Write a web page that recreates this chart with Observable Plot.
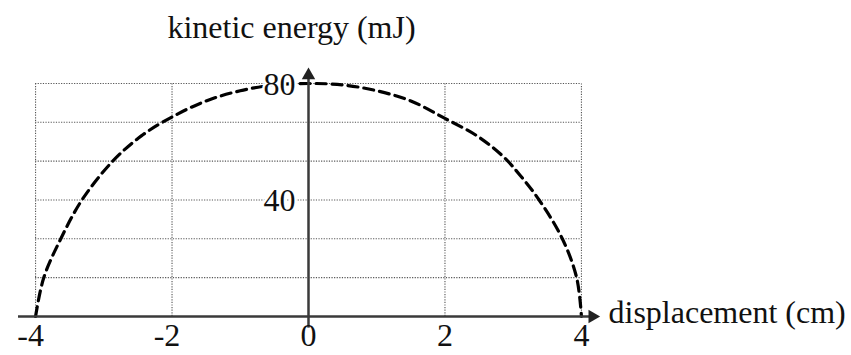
<!DOCTYPE html>
<html>
<head>
<meta charset="utf-8">
<script src="https://cdn.jsdelivr.net/npm/d3@7"></script>
<script src="https://cdn.jsdelivr.net/npm/@observablehq/plot@0.6"></script>
<style>
  html, body { margin: 0; padding: 0; background: #fff; }
</style>
</head>
<body>
<div id="chart"></div>
<script>
// ---- data ----
const displacement = [-4, -3.88, -3.63, -3.32, -2.87, -2.45, -2, -1.5, -1, -0.5, 0, 0.5, 1, 1.5, 2, 2.47, 2.85, 3.1, 3.38, 3.72, 3.93, 4];
const kineticEnergy = [0, 13.3, 26.7, 40, 53.3, 62, 68.5, 74, 77.5, 79.5, 80, 79.5, 77.5, 74, 68, 62, 55, 48.5, 40, 26.7, 13.3, 0];

const xTickLabels = [-4, -2, 0, 2, 4];
const yTickLabels = [40, 80];
const xGridLines = [-4, -2, 2, 4];
const yGridLines = [0, 80 / 6, 160 / 6, 40, 320 / 6, 400 / 6, 80];
const xTitle = "displacement (cm)";
const yTitle = "kinetic energy (mJ)";

// axis extents (data units)
const xDomain = [-4.25, 4.25];
const yDomain = [-4, 86];
const xArrow = 4.16;
const yArrow = 82.8;

const points = displacement.map((x, i) => ({x, y: kineticEnergy[i]}));

const ink = "#111";
const axisColor = "#3a3a3a";

const chart = Plot.plot({
  width: 851,
  height: 355,
  marginLeft: 18,
  marginRight: 253,
  marginTop: 65.5,
  marginBottom: 27.35,
  x: {domain: xDomain, axis: null},
  y: {domain: yDomain, axis: null},
  style: {
    fontFamily: "'Liberation Serif', 'Times New Roman', serif",
    fontSize: "32px",
    background: "white",
    color: ink,
    overflow: "visible"
  },
  marks: [
    // dotted grid
    Plot.ruleY(yGridLines, {y: d => d, x1: () => -4, x2: () => 4, stroke: "#555", strokeWidth: 1.1, strokeDasharray: "1.2,1.4"}),
    Plot.ruleX(xGridLines, {x: d => d, y1: () => 0, y2: () => 80, stroke: "#555", strokeWidth: 1.1, strokeDasharray: "1.2,1.4"}),
    // dashed curve
    Plot.line(points, {x: "x", y: "y", curve: "catmull-rom", stroke: "black", strokeWidth: 3.2, strokeDasharray: "10,6"}),
    // axes
    Plot.ruleY([0], {x1: () => xDomain[0], x2: () => xArrow, stroke: axisColor, strokeWidth: 2.5}),
    Plot.ruleX([0], {y1: () => yDomain[0], y2: () => yArrow, stroke: axisColor, strokeWidth: 2.5}),
    Plot.dot([0], {x: () => xArrow, y: () => 0, symbol: "triangle", r: 5, fill: "#222", stroke: "none", rotate: 90}),
    Plot.dot([0], {x: () => 0, y: () => yArrow, symbol: "triangle", r: 5, fill: "#222", stroke: "none"}),
    // x tick labels
    Plot.text(xTickLabels.filter(d => d < 0), {x: d => d, y: () => yDomain[0], text: d => String(d), lineAnchor: "bottom", dy: 18, dx: -5, fill: ink}),
    Plot.text(xTickLabels.filter(d => d >= 0), {x: d => d, y: () => yDomain[0], text: d => String(d), lineAnchor: "bottom", dy: 18, fill: ink}),
    // y tick labels (with white halo)
    Plot.text(yTickLabels, {x: () => 0, y: d => d, text: d => String(d), textAnchor: "end", dx: -13, dy: 1, fill: ink, stroke: "white", strokeWidth: 5}),
    // axis titles
    Plot.text([yTitle], {x: () => 0, y: () => yDomain[1], text: d => d, dx: -17, dy: -38.5, fill: ink}),
    Plot.text([xTitle], {x: () => xDomain[1], y: () => 0, text: d => d, textAnchor: "start", dx: 10, dy: -4, fill: ink})
  ]
});

document.getElementById("chart").appendChild(chart);
</script>
</body>
</html>
